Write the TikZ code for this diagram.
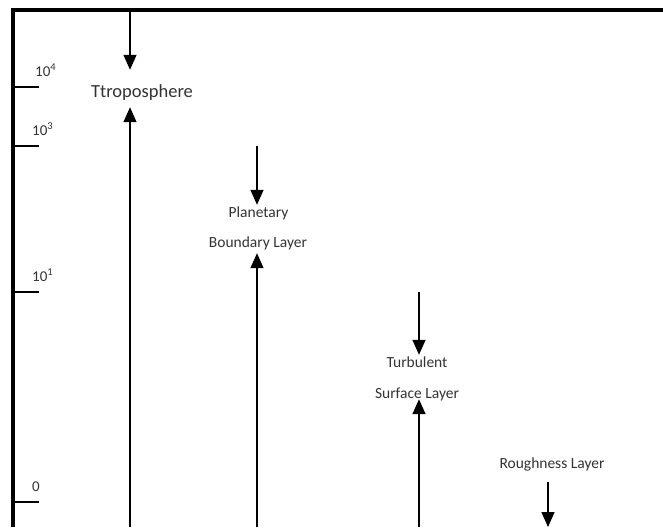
\documentclass[tikz,border=0pt]{standalone}
\usepackage{fontspec}
\setmainfont{Carlito}
\usepackage{xcolor}
\definecolor{labelgray}{HTML}{333333}
\usepackage{tikz}
\usetikzlibrary{arrows.meta,positioning,calc}

\begin{document}
\begin{tikzpicture}[x=1pt, y=-1pt,
    lbl/.style={font=\fontsize{15.5}{18}\selectfont, text=labelgray, inner sep=1pt, text height=11pt, text depth=3.5pt},
    ticklbl/.style={font=\fontsize{15}{18}\selectfont, text=labelgray, inner sep=0pt, anchor=base west},
    flow/.style={line width=1.4pt, -{Triangle[length=15pt,width=13pt]}}]
  \useasboundingbox (0,0) rectangle (663,527);
  % height axis
  \draw[line width=3.3pt] (13,527) -- (13,10) -- (663,10);
  \foreach \y/\x/\lab in {87/35/10\textsuperscript{4}, 146/32/10\textsuperscript{3}, 292/32/10\textsuperscript{1}, 502/32/0} {
    \draw[line width=1.3pt] (13,\y) -- (39,\y);
    \node[ticklbl] (tick\y) at (\x,\y-11) {\lab};
  }
  % layers
  \node[lbl, anchor=base, font=\fontsize{18.5}{20}\selectfont] (trop) at (142,97) {Ttroposphere};
  \coordinate (tropTop) at (130,10);
  \coordinate (tropBot) at (130,527);
  \draw[flow, shorten >=15pt] (tropTop) -- (trop.north -| tropTop);
  \draw[flow, shorten >=5.5pt] (tropBot) -- (trop.south -| tropBot);

  \node[lbl, anchor=base] (pbl1) at (258.5,217) {Planetary};
  \node[lbl, anchor=base] (pbl2) at (258,247) {Boundary Layer};
  \coordinate (pblTop) at (257,146);
  \coordinate (pblBot) at (257,527);
  \draw[flow] (pblTop) -- (pbl1.north -| pblTop);
  \draw[flow, shorten >=1.5pt] (pblBot) -- (pbl2.south -| pblBot);

  \node[lbl, anchor=base] (tsl1) at (417,367) {Turbulent};
  \node[lbl, anchor=base] (tsl2) at (417,398) {Surface Layer};
  \coordinate (tslTop) at (419,292);
  \coordinate (tslBot) at (419,527);
  \draw[flow] (tslTop) -- (tsl1.north -| tslTop);
  \draw[flow, shorten >=-3.5pt] (tslBot) -- (tsl2.south -| tslBot);

  \node[lbl, anchor=base] (rl) at (552,468) {Roughness Layer};
  \coordinate (rlBot) at (548,527);
  \draw[flow, shorten <=9.5pt] (rl.south -| rlBot) -- (rlBot);
\end{tikzpicture}
\end{document}
